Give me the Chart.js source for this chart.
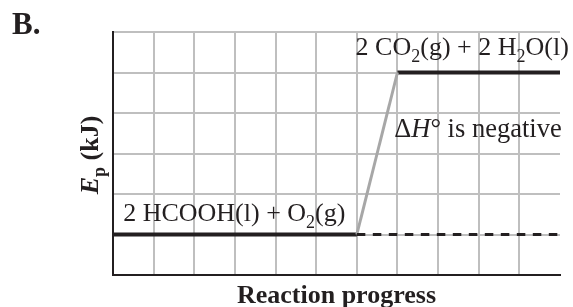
<!DOCTYPE html>
<html>
<head>
<meta charset="utf-8">
<script src="https://cdn.jsdelivr.net/npm/chart.js@4/dist/chart.umd.min.js"></script>
<style>
  html, body { margin: 0; padding: 0; background: #ffffff; }
  #wrap { width: 573px; height: 307px; position: relative; }
</style>
</head>
<body>
<div id="wrap"><canvas id="c" width="573" height="307"></canvas></div>
<script>
// ---- data ----
const reactantX   = [0, 6];
const reactantE   = [1, 1];
const transitionX = [6, 7];
const transitionE = [1, 5];
const productX    = [7, 11];
const productE    = [5, 5];
const referenceX  = [6, 11];   // dashed reference at reactant level
const referenceE  = [1, 1];
const xRange = [0, 11];
const yRange = [0, 6];

// ---- text labels (rich text segments) ----
const panelLabel    = 'B.';
const xAxisTitle    = 'Reaction progress';
const yAxisTitle    = [{t: 'E', s: 'bi'}, {t: 'p', s: 'bsub'}, {t: ' (kJ)', s: 'b'}];
const reactantLabel = [{t: '2 HCOOH(l) + O'}, {t: '2', s: 'sub'}, {t: '(g)'}];
const productLabel  = [{t: '2 CO'}, {t: '2', s: 'sub'}, {t: '(g) + 2 H'}, {t: '2', s: 'sub'}, {t: 'O(l)'}];
const deltaLabel    = [{t: '\u0394'}, {t: 'H', s: 'i'}, {t: '\u00B0 is negative'}];

function pts(xs, ys) { return xs.map((x, i) => ({x: x, y: ys[i]})); }

const SERIF = '"Liberation Serif", "Times New Roman", serif';

function fontFor(style, size) {
  const s = style || '';
  const sub = s.indexOf('sub') >= 0;
  const sz = sub ? Math.round(size * 0.68) : size;
  const bold = s.indexOf('b') === 0 ? 'bold ' : '';
  const ital = (s === 'i' || s === 'bi') ? 'italic ' : '';
  return {font: ital + bold + sz + 'px ' + SERIF, dy: sub ? size * 0.28 : 0};
}

function richWidth(ctx, segs, size) {
  let w = 0;
  segs.forEach(sg => { ctx.font = fontFor(sg.s, size).font; w += ctx.measureText(sg.t).width; });
  return w;
}

function drawRich(ctx, x, y, segs, size) {
  let cx = x;
  ctx.textBaseline = 'alphabetic';
  ctx.textAlign = 'left';
  segs.forEach(sg => {
    const f = fontFor(sg.s, size);
    ctx.font = f.font;
    ctx.fillText(sg.t, cx, y + f.dy);
    cx += ctx.measureText(sg.t).width;
  });
}

const textPlugin = {
  id: 'textPlugin',
  afterDatasetsDraw(chart) {
    const ctx = chart.ctx;
    const xs = chart.scales.x, ys = chart.scales.y;
    const area = chart.chartArea;
    ctx.save();
    ctx.fillStyle = '#231f20';
    // in-plot labels, anchored in data coordinates
    drawRich(ctx, xs.getPixelForValue(0.25), ys.getPixelForValue(1.34), reactantLabel, 26);
    drawRich(ctx, xs.getPixelForValue(5.97), ys.getPixelForValue(5.43), productLabel, 26);
    drawRich(ctx, xs.getPixelForValue(6.92), ys.getPixelForValue(3.41), deltaLabel, 26.5);
    // panel label
    ctx.font = 'bold 31px ' + SERIF;
    ctx.textAlign = 'left';
    ctx.fillText(panelLabel, 12, 34);
    // x-axis title
    ctx.font = 'bold 26px ' + SERIF;
    ctx.textAlign = 'center';
    ctx.fillText(xAxisTitle, (area.left + area.right) / 2, 303);
    // y-axis title (rotated)
    ctx.translate(98, 155);
    ctx.rotate(-Math.PI / 2);
    const w = richWidth(ctx, yAxisTitle, 26);
    drawRich(ctx, -w / 2, 0, yAxisTitle, 26);
    ctx.restore();
  }
};

const gridColor = '#bfbfbf';

new Chart(document.getElementById('c'), {
  type: 'line',
  data: {
    datasets: [
      { data: pts(referenceX, referenceE), borderColor: '#231f20', borderWidth: 3, borderDash: [8.5, 7.5], pointRadius: 0, fill: false },
      { data: pts(transitionX, transitionE), borderColor: '#a7a7a7', borderWidth: 3, pointRadius: 0, fill: false },
      { data: pts(reactantX, reactantE), borderColor: '#231f20', borderWidth: 4, pointRadius: 0, fill: false, borderCapStyle: 'butt' },
      { data: pts(productX, productE), borderColor: '#231f20', borderWidth: 4, pointRadius: 0, fill: false, borderCapStyle: 'butt' }
    ]
  },
  options: {
    responsive: false,
    animation: false,
    events: [],
    layout: { padding: { left: 113, right: 13, top: 32, bottom: 32 } },
    plugins: { legend: { display: false }, tooltip: { enabled: false }, title: { display: false } },
    scales: {
      x: {
        type: 'linear', min: xRange[0], max: xRange[1],
        ticks: { display: false, stepSize: 1 },
        grid: {
          drawTicks: false, lineWidth: 2,
          color: c => (c.tick && c.tick.value === xRange[1]) ? 'rgba(0,0,0,0)' : gridColor
        },
        border: { display: true, color: '#231f20', width: 2 }
      },
      y: {
        type: 'linear', min: yRange[0], max: yRange[1],
        ticks: { display: false, stepSize: 1 },
        grid: { drawTicks: false, lineWidth: 2, color: gridColor },
        border: { display: true, color: '#231f20', width: 2 }
      }
    }
  },
  plugins: [textPlugin]
});
</script>
</body>
</html>
